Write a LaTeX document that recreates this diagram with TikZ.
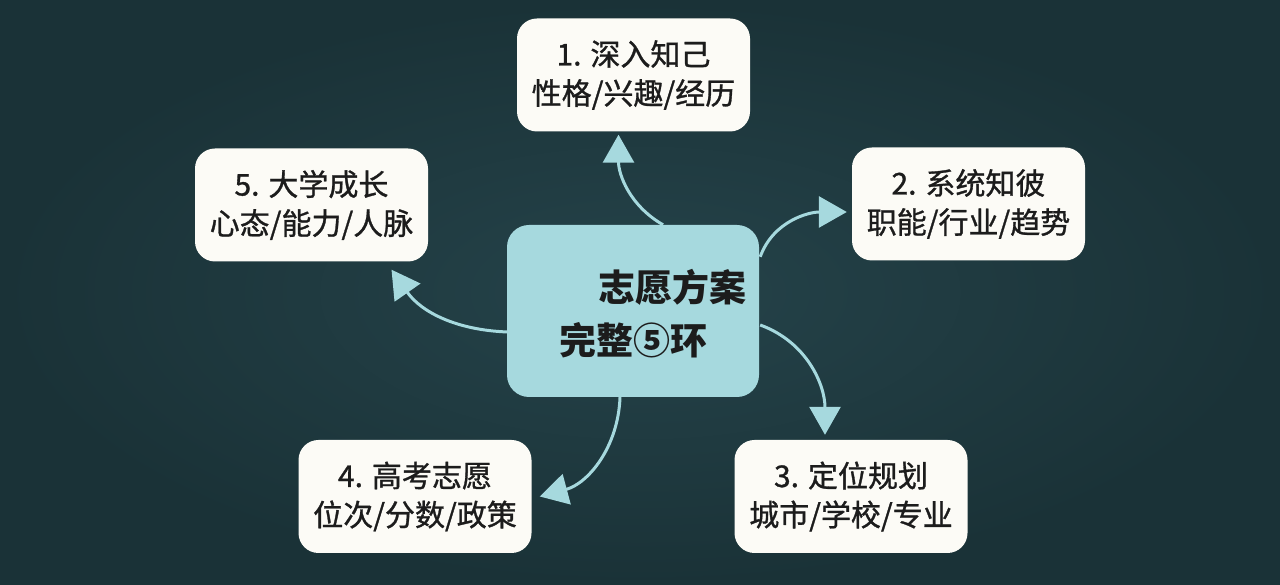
\documentclass[tikz,border=0pt]{standalone}
\usepackage{fontspec}
\setmainfont{Noto Sans CJK SC}
\newfontfamily\stepfont{Noto Sans CJK SC}[FakeBold=1]
\usetikzlibrary{arrows.meta, positioning, calc}
\definecolor{board}{HTML}{25434A}
\definecolor{boardedge}{HTML}{1A3237}
\definecolor{aqua}{HTML}{A6D9DE}
\definecolor{paper}{HTML}{FCFBF6}
\definecolor{ink}{HTML}{1C1C1C}

\begin{document}
\begin{tikzpicture}[x=1pt, y=1pt,
    step box/.style={draw=none, fill=paper, rounded corners=20pt, minimum width=233pt, minimum height=113pt,
      align=center, text=ink, font=\stepfont\fontsize{30}{39}\selectfont, inner sep=0pt},
    core box/.style={fill=aqua, rounded corners=22pt, minimum width=252pt, minimum height=172pt, inner sep=0pt},
    core text/.style={text=ink, font=\fontsize{37}{44}\selectfont\bfseries, inner sep=0pt},
    flow/.style={aqua, line width=3pt, -{Triangle[length=28pt, width=31pt]}}]
      \shade[inner color=board, outer color=boardedge] (0, 0) rectangle (1280, 585);
      \useasboundingbox (0, 0) rectangle (1280, 585);

      \node[core box] (core) at (633, 274) {};
      \node[core text] (title) at (672, 298) {志愿方案};
      \node[core text] (ring) at (633, 245) {完整⑤环};

      \node[step box] (self) at (633.5, 510) {1. 深入知己\\性格/兴趣/经历};
      \node[step box] (world) at (968.5, 381) {2. 系统知彼\\职能/行业/趋势};
      \node[step box] (plan) at (851, 88.5) {3. 定位规划\\城市/学校/专业};
      \node[step box] (exam) at (415, 88.5) {4. 高考志愿\\位次/分数/政策};
      \node[step box] (campus) at (311.5, 380) {5. 大学成长\\心态/能力/人脉};

      \draw[flow] ($(core.north)+(30, 0)$) to[out=150, in=-90] ($(self.south)+(-15, -3)$);
      \draw[flow] ($(core.north east)+(1, -32)$) to[out=70, in=180] ($(world.west)+(-5, -8)$);
      \draw[flow] ($(core.east)+(1, -14)$) to[out=-20, in=90] ($(plan.north)+(-26, 5)$);
      \draw[flow] ($(core.south)+(-13, 0)$) to[out=-92, in=15] ($(exam.east)+(8, 0)$);
      \draw[flow] ($(core.west)+(1, -21)$) to[out=178, in=-55] ($(campus.south)+(80, -8)$);

    \end{tikzpicture}
\end{document}
